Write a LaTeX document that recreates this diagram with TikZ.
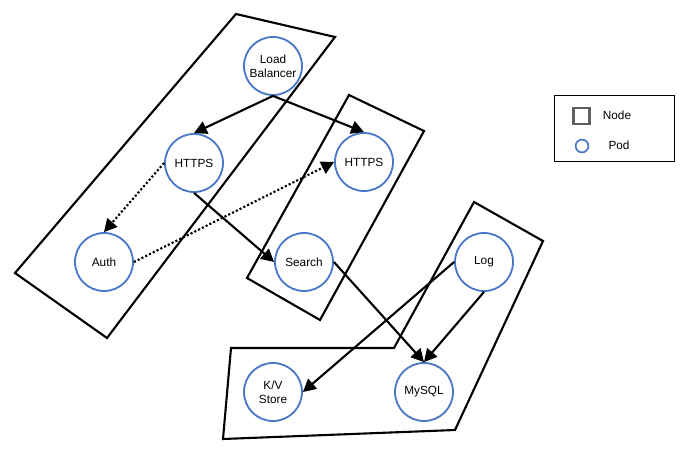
\documentclass[tikz,border=0pt]{standalone}
\usepackage{fontspec}
\setmainfont{Liberation Sans}
\usepackage{xcolor}
\usetikzlibrary{arrows.meta}
\definecolor{podblue}{HTML}{4A78C8}

\begin{document}
\begin{tikzpicture}[x=0.025cm, y=-0.025cm, >={Triangle[length=3.2mm, width=3.3mm]},
    every node/.style={font=\fontsize{8.4}{9.8}\selectfont},
    pod/.style={circle, draw=podblue, line width=1.3pt, minimum size=1.45cm, inner sep=0pt, align=center},
    nodebox/.style={draw, line width=1.5pt, line join=miter},
    link/.style={->, line width=1.5pt},
    dotlink/.style={->, line width=1.5pt, dash pattern=on 1.5pt off 1.5pt}]
  \useasboundingbox (0,0) rectangle (694,464);
  % worker nodes
  \draw[nodebox] (236,14) -- (335,37) -- (107,338) -- (15,273) -- cycle;
  \draw[nodebox] (349,95) -- (424,131) -- (320,320) -- (247,278) -- cycle;
  \draw[nodebox] (474,202) -- (543,241) -- (455,430) -- (223,439) -- (231,348) -- (394,348) -- cycle;
  % pods
  \node[pod] (lb) at (273,66) {Load\\Balancer};
  \node[pod] (hl) at (194,163) {HTTPS};
  \node[pod] (hr) at (364,162) {HTTPS};
  \node[pod] (auth) at (104,262) {Auth};
  \node[pod] (search) at (304,262) {Search};
  \node[pod] (log) at (484,262) {Log};
  \node[pod] (kv) at (273,392) {K/V\\Store};
  \node[pod] (mysql) at (424,392) {MySQL};
  % traffic
  \draw[link] (lb.south) -- (hl.north);
  \draw[link] (lb.south) -- (hr.north);
  \draw[dotlink] (hl.west) -- (auth.north);
  \draw[dotlink] (auth.east) -- (hr.west);
  \draw[link] (hl.south) -- (search.west);
  \draw[link] (search.east) -- (mysql.north);
  \draw[link] (log.west) -- (kv.east);
  \draw[link] (log.south) -- (mysql.north);
  % legend
  \node[draw, line width=0.7pt, minimum width=3.0cm, minimum height=1.65cm] (legend) at (614.5,128.5) {};
  \node[draw=gray!75!black, line width=1.7pt, minimum size=0.4cm, inner sep=0pt] (keynode) at (581.5,116) {};
  \node[circle, draw=podblue, line width=1.2pt, minimum size=0.32cm, inner sep=0pt] (keypod) at (582,146) {};
  \node (keynodetxt) at (617,115) {Node};
  \node (keypodtxt) at (619,145) {Pod};
\end{tikzpicture}
\end{document}
